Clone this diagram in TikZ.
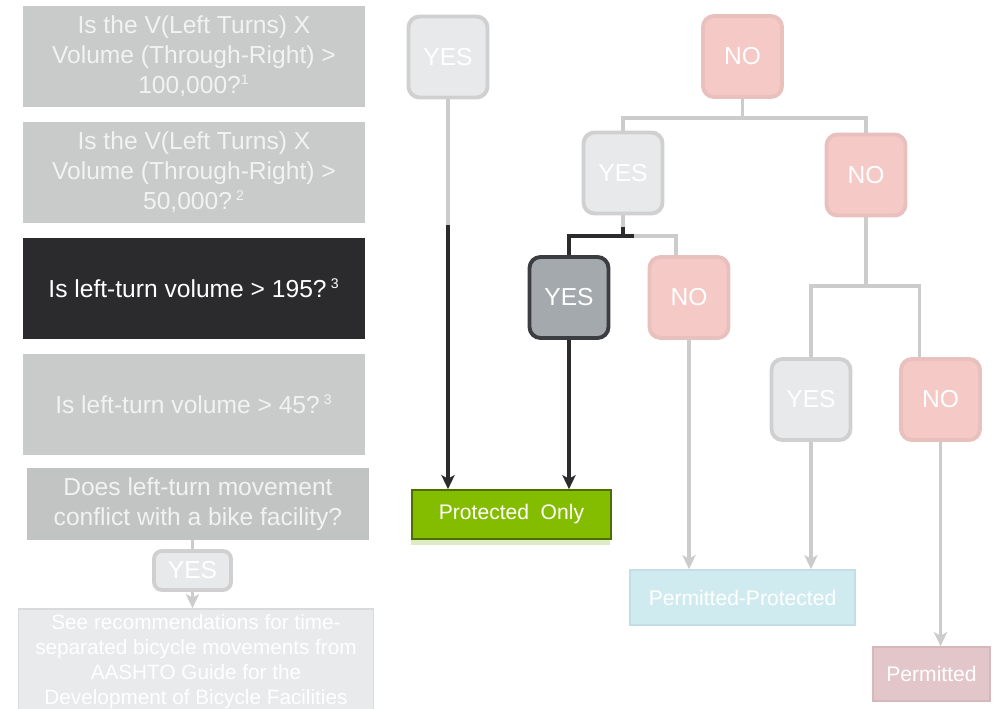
\documentclass[tikz,border=0pt]{standalone}
\usepackage{fontspec}
\setmainfont{Liberation Sans}
\usetikzlibrary{arrows.meta,positioning}

\definecolor{qgray}{HTML}{C9CACA}
\definecolor{qtext}{HTML}{F2F2F2}
\definecolor{qdark}{HTML}{2B2B2D}
\definecolor{bikegray}{HTML}{C2C3C3}
\definecolor{notefill}{HTML}{E9EAEB}
\definecolor{noteline}{HTML}{D9DADA}
\definecolor{yesfill}{HTML}{E8E9EA}
\definecolor{yesline}{HTML}{D0D0D0}
\definecolor{nofill}{HTML}{F5C9C6}
\definecolor{noline}{HTML}{E8C0BD}
\definecolor{hotfill}{HTML}{A3A9AC}
\definecolor{hotline}{HTML}{3B3D40}
\definecolor{protgreen}{HTML}{84BD00}
\definecolor{protline}{HTML}{4E6E00}
\definecolor{protstrip}{HTML}{DFEBC4}
\definecolor{ppfill}{HTML}{D0EBF0}
\definecolor{ppline}{HTML}{C3DEE6}
\definecolor{permfill}{HTML}{E3C6C9}
\definecolor{permline}{HTML}{D6B8BB}
\definecolor{linkgray}{HTML}{CCCCCC}
\definecolor{linkdark}{HTML}{2B2B2D}

\begin{document}
\begin{tikzpicture}[
  x=0.02cm, y=-0.02cm,
  question/.style={rectangle, fill=qgray, minimum width=6.84cm, minimum height=2.02cm, align=center, text=qtext, inner sep=2pt, outer sep=0pt, font=\fontsize{14}{17}\selectfont},
  choice/.style={rectangle, rounded corners=0.22cm, line width=2.2pt, minimum width=1.58cm, minimum height=1.62cm, text=white, font=\fontsize{14}{17}\selectfont},
  yesbox/.style={choice, fill=yesfill, draw=yesline},
  nobox/.style={choice, fill=nofill, draw=noline},
  result/.style={rectangle, line width=0.9pt, text=white, font=\fontsize{12}{14}\selectfont},
  link/.style={draw=linkgray, line width=2.2pt},
  hot/.style={draw=linkdark, line width=2.2pt},
  tip/.style={-{Stealth[length=8pt,width=7.5pt,inset=2pt]}},
]
  \useasboundingbox (0,0) rectangle (998,709);
  \clip (0,0) rectangle (998,709);

  % questions on the left
  \node[question, anchor=north west] (q1) at (23,6) {Is the V(Left Turns) X\\Volume (Through-Right) >\\100,000?\textsuperscript{\footnotesize 1}};
  \node[question, below=0.3cm of q1] (q2) {Is the V(Left Turns) X\\Volume (Through-Right) >\\50,000?\,\textsuperscript{\footnotesize 2}};
  \node[question, fill=qdark, text=white, below=0.3cm of q2] (q3) {Is left-turn volume > 195?\,\textsuperscript{\footnotesize 3}};
  \node[question, below=0.3cm of q3] (q4) {Is left-turn volume > 45?\,\textsuperscript{\footnotesize 3}};
  \node[question, fill=bikegray, minimum height=1.44cm, anchor=north west] (q5) at (27,468) {Does left-turn movement\\conflict with a bike facility?};
  \node[yesbox, minimum width=1.54cm, minimum height=0.78cm, rounded corners=0.16cm] (byes) at (192.5,570.5) {YES};
  \node[rectangle, fill=notefill, draw=noteline, line width=0.9pt, minimum width=7.1cm, minimum height=2.12cm, align=center, text=white, font=\fontsize{11.8}{14.2}\selectfont] (note) at (196,662) {See recommendations for time-\\separated bicycle movements from\\AASHTO Guide for the\\Development of Bicycle Facilities};

  \draw[link] (q5.south -| byes.north) -- (byes.north);
  \draw[link, tip] (byes.south) -- (byes.south |- note.north);

  % decision tree
  \node[yesbox] (yes1) at (448,57) {YES};
  \node[nobox] (no1) at (742.5,56.5) {NO};
  \node[yesbox] (yes2) at (623,173) {YES};
  \node[nobox] (no2) at (866,175) {NO};
  \node[choice, fill=hotfill, draw=hotline] (yes3) at (569,297.5) {YES};
  \node[nobox] (no3) at (689,297.5) {NO};
  \node[yesbox] (yes4) at (811,399.5) {YES};
  \node[nobox] (no4) at (940.5,399.5) {NO};

  % outcomes
  \node[result, fill=protgreen, draw=protline, minimum width=3.98cm, minimum height=0.98cm] (prot) at (511.5,514.5) {\raisebox{-2pt}{Protected\hspace{0.55em}Only}};
  \fill[protstrip] (prot.south west) rectangle ++(199,5);
  \node[result, fill=ppfill, draw=ppline, minimum width=4.5cm, minimum height=1.1cm] (pp) at (742.5,597.5) {Permitted-Protected};
  \node[result, fill=permfill, draw=permline, minimum width=2.34cm, minimum height=1.08cm] (perm) at (931.5,674) {Permitted};

  % connectors
  \coordinate (s1) at (742.5,118);
  \coordinate (s2a) at (623,227);
  \coordinate (s2) at (623,236);
  \coordinate (s2b) at (634,236);
  \coordinate (s3) at (866,286);
  \coordinate (k1) at (448,225);

  \draw[link] (no1.south) -- (s1);
  \draw[link] (yes2.north) |- (s1) -| (no2.north);
  \draw[link] (yes2.south) -- (s2) -| ([xshift=-0.26cm]no3.north);
  \draw[hot] (s2a) -- (s2);
  \draw[hot] (s2b) -| (yes3.north);
  \draw[link] (no2.south) -- (s3);
  \draw[link] (yes4.north) |- (s3) -| ([xshift=-0.42cm]no4.north);

  \draw[link] (yes1.south) -- (k1);
  \draw[hot, tip] (k1) -- (k1 |- prot.north);
  \draw[hot, tip] (yes3.south) -- (yes3.south |- prot.north);
  \draw[link, tip] (no3.south) -- (no3.south |- pp.north);
  \draw[link, tip] (yes4.south) -- (yes4.south |- pp.north);
  \draw[link, tip] (no4.south) -- (no4.south |- perm.north);
\end{tikzpicture}
\end{document}
